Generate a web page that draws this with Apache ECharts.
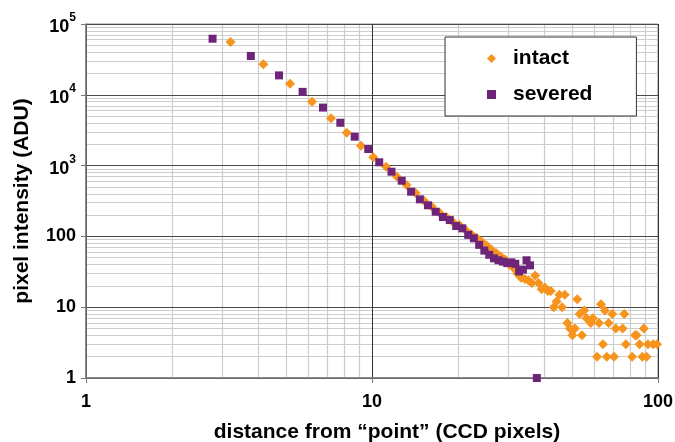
<!DOCTYPE html>
<html>
<head>
<meta charset="utf-8">
<script src="https://cdn.jsdelivr.net/npm/echarts@6/dist/echarts.min.js"></script>
<style>
html, body { margin: 0; padding: 0; background: #fff; }
#chart { width: 675px; height: 442px; }
</style>
</head>
<body>
<div id="chart"></div>
<script>
// distances (CCD pixels) and intensities (ADU)
var intactX = [3.2, 4.17, 5.17, 6.17, 7.19, 8.16, 9.15, 10.1, 11.2, 12.2, 13.2, 14.2, 15.2, 16.2, 17.2, 18.2, 19.2, 20.2,
  21.2, 22.2, 23.2, 24.2, 25.2, 26.2, 27.2, 28.2, 29.2, 30.2, 31.2, 32.2, 33.2, 34.2, 35.2, 36.2, 37.2, 38.2, 39.2, 40.2,
  41.2, 42.2, 43.2, 44.2, 45.2, 46.2, 47.2, 48.2, 49.2, 50.2, 51.2, 52.2, 53.2, 54.2, 55.2, 56.2, 58.2, 59.2, 61.2, 62.2,
  63.2, 64.2, 65.2, 66.2, 67.2, 69.2, 70.2, 71.2, 75.2, 76.2, 77.2, 81.2, 83.2, 84.2, 86.2, 88.2, 89.2, 91.2, 92.2, 96.2, 99.2];
var intactY = [55700, 27000, 14350, 8000, 4660, 2915, 1910, 1310, 960, 700, 530, 410, 320, 262, 218, 188, 160, 145,
  124, 108, 96, 84, 74, 65, 58, 52, 47, 40, 36, 30, 26, 25, 24, 22, 28, 22, 18, 19,
  17, 17, 10, 12, 15, 10, 15, 6, 5, 4, 5, 13, 8, 4, 9, 7, 6, 7, 2, 6,
  11, 3, 9, 2, 6, 8, 2, 5, 5, 8, 3, 2, 4, 4, 3, 2, 5, 2, 3, 3, 3];

var severedX = [2.77, 3.77, 4.73, 5.72, 6.74, 7.75, 8.7, 9.7, 10.6, 11.7, 12.7, 13.7, 14.7, 15.7, 16.7, 17.7, 18.7, 19.7,
  20.7, 21.7, 22.7, 23.7, 24.7, 25.7, 26.7, 27.7, 28.7, 29.7, 30.7, 31.7, 32.7, 33.7, 34.7, 35.7, 37.7];
var severedY = [62000, 35300, 18800, 11000, 6600, 4030, 2560, 1714, 1114, 820, 612, 428, 334, 275, 223, 188, 170, 140,
  130, 105, 94, 76, 63, 55, 49, 46, 44, 42, 43, 41, 32, 34, 46, 39, 1];

var minorSteps = [2, 3, 4, 5, 6, 7, 8, 9];
var xDecades = [1, 10];
var yDecades = [1, 10, 100, 1000, 10000];

function pairs(xs, ys) {
  return xs.map(function (x, i) { return [x, ys[i]]; });
}

var minorLines = [];
xDecades.forEach(function (d) {
  minorSteps.forEach(function (s) { minorLines.push({ xAxis: d * s }); });
});
yDecades.forEach(function (d) {
  minorSteps.forEach(function (s) { minorLines.push({ yAxis: d * s }); });
});

var font = '"Liberation Sans", Arial, sans-serif';

var chart = echarts.init(document.getElementById('chart'));
chart.setOption({
  animation: false,
  textStyle: { fontFamily: font },
  grid: {
    left: 86, right: 17, top: 24, bottom: 64,
    containLabel: false, outerBoundsMode: 'none',
    show: true, borderColor: '#8a8a8a', borderWidth: 1
  },
  legend: {
    data: ['intact', 'severed'],
    orient: 'vertical',
    left: 445, top: 37,
    padding: [11, 44, 11, 42],
    itemGap: 15,
    itemWidth: 9, itemHeight: 9,
    backgroundColor: '#fff',
    borderColor: '#333', borderWidth: 1,
    textStyle: { fontSize: 21, fontWeight: 'bold', color: '#000', fontFamily: font, padding: [0, 0, 0, 12] }
  },
  xAxis: {
    type: 'log', logBase: 10, min: 1, max: 100, z: 1,
    name: 'distance from \u201cpoint\u201d (CCD pixels)',
    nameLocation: 'middle', nameGap: 44,
    nameTextStyle: { fontSize: 21, fontWeight: 'bold', color: '#000', fontFamily: font, padding: [0, 0, 0, 30] },
    axisLine: { lineStyle: { color: '#777', width: 1.5 } },
    axisTick: { show: true, length: 5, lineStyle: { color: '#777' } },
    axisLabel: { fontSize: 18, fontWeight: 'bold', color: '#000', margin: 15, fontFamily: font },
    splitLine: { show: true, lineStyle: { color: '#333', width: 1 } }
  },
  yAxis: {
    type: 'log', logBase: 10, min: 1, max: 100000, z: 1,
    name: 'pixel intensity (ADU)',
    nameLocation: 'middle', nameGap: 53,
    nameTextStyle: { fontSize: 21, fontWeight: 'bold', color: '#000', fontFamily: font },
    axisLine: { lineStyle: { color: '#777', width: 1.5 } },
    axisTick: { show: true, length: 5, lineStyle: { color: '#777' } },
    axisLabel: {
      fontSize: 18, fontWeight: 'bold', color: '#000', margin: 10, fontFamily: font,
      formatter: function (v) {
        var e = Math.round(Math.log10(v));
        if (e >= 3) return '{b|10}{sup|' + e + '}';
        return String(Math.round(v));
      },
      rich: {
        b: { fontSize: 18, fontWeight: 'bold', color: '#000', lineHeight: 24, verticalAlign: 'bottom', fontFamily: font },
        sup: { fontSize: 12, fontWeight: 'bold', color: '#000', lineHeight: 12, verticalAlign: 'top', fontFamily: font }
      }
    },
    splitLine: { show: true, lineStyle: { color: '#4a4a4a', width: 1 } }
  },
  series: [
    {
      name: 'minor grid',
      type: 'scatter',
      data: [[1, 1]],
      symbolSize: 0,
      silent: true,
      markLine: {
        z: 0.5,
        silent: true,
        symbol: ['none', 'none'],
        label: { show: false },
        lineStyle: { type: 'solid', color: '#cdcdcd', width: 1.2 },
        data: minorLines
      }
    },
    {
      name: 'intact',
      type: 'scatter',
      symbol: 'diamond',
      symbolSize: 10,
      itemStyle: { color: '#F7941D', opacity: 1 },
      data: pairs(intactX, intactY)
    },
    {
      name: 'severed',
      type: 'scatter',
      symbol: 'rect',
      symbolSize: 8,
      itemStyle: { color: '#6E2479', opacity: 1 },
      data: pairs(severedX, severedY)
    }
  ]
});
</script>
</body>
</html>
